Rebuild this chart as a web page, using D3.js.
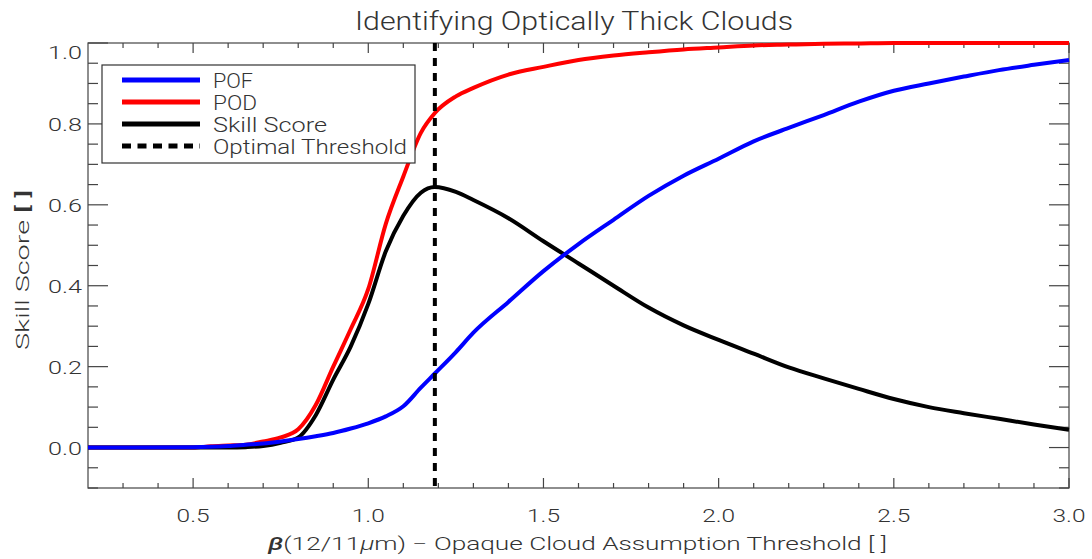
<!DOCTYPE html>
<html>
<head>
<meta charset="utf-8">
<script src="https://cdn.jsdelivr.net/npm/d3@7"></script>
<style>
  html, body { margin: 0; padding: 0; background: #fff; }
  svg text { font-family: Roboto, "DejaVu Sans", sans-serif; font-weight: 300; fill: #333; }
</style>
</head>
<body>
<svg id="chart" width="1092" height="559"></svg>
<script>
// ---- data ----
const thresholds = [0.2, 0.5, 0.55, 0.6, 0.65, 0.7, 0.75, 0.8, 0.85, 0.9, 0.95, 1.0, 1.05, 1.1, 1.15, 1.19,
  1.25, 1.3, 1.4, 1.5, 1.6, 1.7, 1.8, 1.9, 2.0, 2.1, 2.2, 2.3, 2.4, 2.5, 2.6, 2.7, 2.8, 2.9, 3.0];
const pod = [0, 0, 0.003, 0.005, 0.007, 0.015, 0.025, 0.045, 0.105, 0.2, 0.293, 0.392, 0.553, 0.67, 0.778, 0.827,
  0.868, 0.889, 0.922, 0.941, 0.958, 0.969, 0.977, 0.984, 0.989, 0.994, 0.996, 0.998, 0.999, 1.0, 1.0, 1.0, 1.0, 1.0, 1.0];
const skill = [0, 0, 0, 0, 0.001, 0.004, 0.012, 0.025, 0.08, 0.168, 0.25, 0.355, 0.485, 0.573, 0.63, 0.644,
  0.632, 0.612, 0.567, 0.51, 0.455, 0.4, 0.346, 0.302, 0.266, 0.232, 0.198, 0.171, 0.145, 0.12, 0.1, 0.085, 0.071, 0.057, 0.044];
const pof = [0, 0.001, 0.002, 0.004, 0.007, 0.01, 0.015, 0.021, 0.028, 0.036, 0.047, 0.06, 0.077, 0.102, 0.148, 0.183,
  0.236, 0.284, 0.36, 0.436, 0.503, 0.563, 0.622, 0.672, 0.714, 0.757, 0.79, 0.822, 0.855, 0.882, 0.9, 0.917, 0.933, 0.946, 0.958];
const optimalThreshold = 1.19;
const xTickLabels = ["0.5", "1.0", "1.5", "2.0", "2.5", "3.0"];
const yTickLabels = ["0.0", "0.2", "0.4", "0.6", "0.8", "1.0"];
const legendNames = ["POF", "POD", "Skill Score", "Optimal Threshold"];
const titleText = "Identifying Optically Thick Clouds";

// ---- layout ----
const svg = d3.select("#chart");
const L = 88, R = 1069, T = 43, B = 488;
const x = d3.scaleLinear().domain([0.2, 3.0]).range([L, R]);
const y = d3.scaleLinear().domain([-0.1, 1.0]).range([B, T]);
const axisColor = "#444";

// frame
svg.append("rect").attr("x", L).attr("y", T).attr("width", R - L).attr("height", B - T)
  .attr("fill", "none").attr("stroke", axisColor).attr("stroke-width", 1.2);

// ticks
const xMinor = d3.range(3, 31).map(d => d / 10);
const yMinor = d3.range(-2, 21).map(d => d / 20);
const isMajorX = v => Math.abs(v * 2 - Math.round(v * 2)) < 1e-6;
const isMajorY = v => Math.abs(v * 5 - Math.round(v * 5)) < 1e-6;
const tg = svg.append("g").attr("stroke", axisColor).attr("stroke-width", 1.2);
xMinor.forEach(v => {
  const len = isMajorX(v) ? 10 : 5;
  tg.append("line").attr("x1", x(v)).attr("x2", x(v)).attr("y1", B).attr("y2", B - len);
  tg.append("line").attr("x1", x(v)).attr("x2", x(v)).attr("y1", T).attr("y2", T + len);
});
yMinor.forEach(v => {
  const len = isMajorY(v) ? 20 : 10;
  tg.append("line").attr("x1", L).attr("x2", L + len).attr("y1", y(v)).attr("y2", y(v));
  tg.append("line").attr("x1", R).attr("x2", R - len).attr("y1", y(v)).attr("y2", y(v));
});

// tick labels
xTickLabels.forEach(s => {
  svg.append("text").attr("x", x(+s)).attr("y", 522).attr("text-anchor", "middle")
    .attr("font-size", 19).attr("textLength", 33).attr("lengthAdjust", "spacingAndGlyphs").text(s);
});
yTickLabels.forEach(s => {
  const yy = Math.max(y(+s), T + 8.5);
  svg.append("text").attr("x", 82).attr("y", yy + 7.5).attr("text-anchor", "end")
    .attr("font-size", 19).attr("textLength", 34).attr("lengthAdjust", "spacingAndGlyphs").text(s);
});

// titles
svg.append("text").attr("x", 355).attr("y", 30).attr("font-size", 26)
  .attr("textLength", 438).attr("lengthAdjust", "spacingAndGlyphs").text(titleText);

const xt = svg.append("text").attr("x", 268).attr("y", 550).attr("font-size", 19)
  .attr("textLength", 619).attr("lengthAdjust", "spacingAndGlyphs");
xt.append("tspan").attr("font-style", "italic").attr("font-weight", 500).text("β");
xt.append("tspan").text("(12/11");
xt.append("tspan").attr("font-style", "italic").text("μ");
xt.append("tspan").text("m) − Opaque Cloud Assumption Threshold [ ]");

const yt = svg.append("text").attr("transform", "translate(29,350) rotate(-90)").attr("font-size", 19)
  .attr("textLength", 160).attr("lengthAdjust", "spacingAndGlyphs");
yt.append("tspan").text("Skill Score ");
yt.append("tspan").attr("font-weight", 500).text("[ ]");

// curves
const line = vals => d3.line().curve(d3.curveMonotoneX)
  .x((d, i) => x(thresholds[i])).y(d => y(d))(vals);
const series = [
  { vals: pod, color: "#ff0000" },
  { vals: skill, color: "#000000" },
  { vals: pof, color: "#0000ff" }
];
series.forEach(s => {
  svg.append("path").attr("d", line(s.vals)).attr("fill", "none").attr("stroke", s.color)
    .attr("stroke-width", 4).attr("stroke-linejoin", "round");
});

// optimal threshold
svg.append("line").attr("x1", x(optimalThreshold)).attr("x2", x(optimalThreshold))
  .attr("y1", T).attr("y2", B).attr("stroke", "#000").attr("stroke-width", 4)
  .attr("stroke-dasharray", "8,7");

// legend
svg.append("rect").attr("x", 102).attr("y", 65).attr("width", 313).attr("height", 98)
  .attr("fill", "#fff").attr("stroke", "#333").attr("stroke-width", 1.2);
const legendColors = ["#0000ff", "#ff0000", "#000000", "#000000"];
const legendWidths = [40, 44, 114, 194];
legendNames.forEach((name, i) => {
  const ly = 80 + i * 22;
  svg.append("line").attr("x1", 122).attr("x2", 200).attr("y1", ly).attr("y2", ly)
    .attr("stroke", legendColors[i]).attr("stroke-width", 5)
    .attr("stroke-dasharray", i === 3 ? "9,6.5" : null);
  svg.append("text").attr("x", 213).attr("y", ly + 7.5).attr("font-size", 20)
    .attr("textLength", legendWidths[i]).attr("lengthAdjust", "spacingAndGlyphs").text(name);
});
</script>
</body>
</html>
